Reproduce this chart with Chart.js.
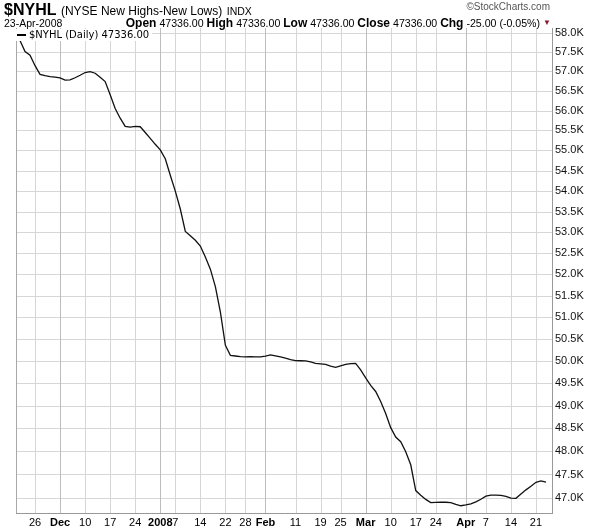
<!DOCTYPE html>
<html>
<head>
<meta charset="utf-8">
<script src="https://cdn.jsdelivr.net/npm/chart.js@4.4.1/dist/chart.umd.min.js"></script>
<style>
  html, body { margin:0; padding:0; background:#fff; }
  #wrap { position:relative; width:600px; height:530px; overflow:hidden; }
  canvas { position:absolute; left:0; top:0; }
  .t { position:absolute; font-family:"Liberation Sans", Arial, sans-serif; color:#000; white-space:nowrap; }
</style>
</head>
<body>
<div id="wrap">
  <canvas id="c" width="600" height="530"></canvas>
  <div class="t" style="left:4px;top:1px;"><span style="font-size:16px;font-weight:bold;">$NYHL</span> <span style="font-size:12px;">(NYSE New Highs-New Lows)</span> <span style="font-size:10.5px;">INDX</span></div>
  <div class="t" style="left:4px;top:17px;font-size:10.5px;">23-Apr-2008</div>
  <div class="t" style="right:60px;top:16px;font-size:10.6px;"><b style="font-size:12px;">Open</b> 47336.00 <b style="font-size:12px;">High</b> 47336.00 <b style="font-size:12px;">Low</b> 47336.00 <b style="font-size:12px;">Close</b> 47336.00 <b style="font-size:12px;">Chg</b> -25.00 (-0.05%)</div>
  <div class="t" style="left:543px;top:18px;font-size:8px;color:#8b1a2b;">&#9660;</div>
  <div class="t" style="right:50px;top:1px;font-size:10px;color:#555;">&copy;StockCharts.com</div>
  <div class="t" style="left:16px;top:29px;background:#fff;padding:0 3px 1px 1px;font-family:'DejaVu Sans',sans-serif;font-size:10px;"><span style="display:inline-block;width:9px;height:2px;background:#000;vertical-align:middle;margin-right:3px;"></span>$NYHL (Daily) 47336.00</div>
</div>
<script>
const tradingDates = [
  '2007-11-20','2007-11-21','2007-11-23','2007-11-26','2007-11-27','2007-11-28','2007-11-29','2007-11-30',
  '2007-12-03','2007-12-04','2007-12-05','2007-12-06','2007-12-07','2007-12-10','2007-12-11','2007-12-12','2007-12-13','2007-12-14',
  '2007-12-17','2007-12-18','2007-12-19','2007-12-20','2007-12-21','2007-12-24','2007-12-26','2007-12-27','2007-12-28','2007-12-31',
  '2008-01-02','2008-01-03','2008-01-04','2008-01-07','2008-01-08','2008-01-09','2008-01-10','2008-01-11','2008-01-14','2008-01-15',
  '2008-01-16','2008-01-17','2008-01-18','2008-01-22','2008-01-23','2008-01-24','2008-01-25','2008-01-28','2008-01-29','2008-01-30','2008-01-31',
  '2008-02-01','2008-02-04','2008-02-05','2008-02-06','2008-02-07','2008-02-08','2008-02-11','2008-02-12','2008-02-13','2008-02-14','2008-02-15',
  '2008-02-19','2008-02-20','2008-02-21','2008-02-22','2008-02-25','2008-02-26','2008-02-27','2008-02-28','2008-02-29',
  '2008-03-03','2008-03-04','2008-03-05','2008-03-06','2008-03-07','2008-03-10','2008-03-11','2008-03-12','2008-03-13','2008-03-14',
  '2008-03-17','2008-03-18','2008-03-19','2008-03-20','2008-03-24','2008-03-25','2008-03-26','2008-03-27','2008-03-28','2008-03-31',
  '2008-04-01','2008-04-02','2008-04-03','2008-04-04','2008-04-07','2008-04-08','2008-04-09','2008-04-10','2008-04-11',
  '2008-04-14','2008-04-15','2008-04-16','2008-04-17','2008-04-18','2008-04-21','2008-04-22','2008-04-23'
];
const nyhlValues = [
  57800,57515,57421,57148,56925,56894,56868,56855,
  56832,56775,56780,56837,56901,56971,56995,56953,56847,56739,
  56402,56052,55806,55601,55581,55601,55591,55447,55301,55151,
  55013,54791,54385,53996,53561,53021,52915,52807,52671,52413,
  52123,51713,51122,50359,50131,50115,50099,50097,50102,50097,50094,
  50115,50142,50119,50094,50065,50035,50010,50008,50003,49981,49947,
  49938,49926,49888,49858,49894,49928,49944,49949,49802,
  49621,49452,49318,49094,48828,48518,48313,48210,47992,47709,
  47156,47057,46968,46899,46903,46907,46907,46899,46861,46833,
  46850,46874,46914,46972,47036,47057,47059,47053,47032,
  46993,46991,47085,47171,47248,47332,47361,47336
];
const xTickIndices = [3,8,13,18,23,28,31,36,41,45,49,55,60,64,69,74,79,83,89,93,98,103];
const xTickLabels = ['26','Dec','10','17','24','2008','7','14','22','28','Feb','11','19','25','Mar','10','17','24','Apr','7','14','21'];
const xBoldLabels = ['Dec','2008','Feb','Mar','Apr'];
const yTickValues = [47000,47500,48000,48500,49000,49500,50000,50500,51000,51500,52000,52500,53000,53500,54000,54500,55000,55500,56000,56500,57000,57500,58000];

const points = nyhlValues.map((v, i) => ({ x: i, y: v }));
const labelAt = (v) => { const k = xTickIndices.indexOf(Math.round(v)); return k >= 0 ? xTickLabels[k] : ''; };
const isMonth = (v) => xBoldLabels.includes(labelAt(v));

const frameAndGrid = {
  id: 'frameAndGrid',
  beforeDatasetsDraw(chart) {
    const a = chart.chartArea, ctx = chart.ctx;
    const xs = chart.scales.x, ys = chart.scales.y;
    ctx.save();
    ctx.lineWidth = 1;
    ys.ticks.forEach(t => {
      const y = Math.round(ys.getPixelForValue(t.value)) + 0.5;
      ctx.strokeStyle = '#d6d6d6';
      ctx.beginPath(); ctx.moveTo(a.left, y); ctx.lineTo(a.right, y); ctx.stroke();
    });
    xs.ticks.forEach(t => {
      const x = Math.round(xs.getPixelForValue(t.value)) + 0.5;
      ctx.strokeStyle = isMonth(t.value) ? '#bdbdbd' : '#d6d6d6';
      ctx.beginPath(); ctx.moveTo(x, a.top); ctx.lineTo(x, a.bottom); ctx.stroke();
    });
    ctx.strokeStyle = '#a8a8a8';
    ctx.beginPath(); ctx.moveTo(a.left + 0.5, a.top); ctx.lineTo(a.left + 0.5, a.bottom); ctx.stroke();
    ctx.restore();
  }
};

new Chart(document.getElementById('c'), {
  type: 'line',
  data: {
    datasets: [{
      label: '$NYHL (Daily)',
      data: points,
      borderColor: '#111',
      borderWidth: 1.3,
      pointRadius: 0,
      tension: 0,
      fill: false
    }]
  },
  options: {
    responsive: false,
    animation: false,
    devicePixelRatio: 1,
    layout: { padding: { left: 16, top: 28, right: 0, bottom: 0 } },
    plugins: { legend: { display: false }, tooltip: { enabled: false } },
    scales: {
      x: {
        type: 'linear',
        min: -0.8,
        max: 106.2,
        afterBuildTicks: (s) => { s.ticks = xTickIndices.map(v => ({ value: v })); },
        afterFit: (s) => { s.height = 17; },
        grid: { display: true, drawOnChartArea: false, drawTicks: false },
        border: { display: true, color: '#999', dash: [1, 2] },
        ticks: {
          autoSkip: false,
          maxRotation: 0,
          padding: 3,
          color: '#000',
          font: (c) => ({ family: '"Liberation Sans", Arial, sans-serif', size: 11, weight: (c.tick && isMonth(c.tick.value)) ? 'bold' : 'normal' }),
          callback: (v) => labelAt(v)
        }
      },
      y: {
        type: 'logarithmic',
        position: 'right',
        min: 46680,
        max: 58130,
        afterBuildTicks: (s) => { s.ticks = yTickValues.map(v => ({ value: v })); },
        afterFit: (s) => { s.width = 48; },
        grid: { display: true, drawOnChartArea: false, drawTicks: false },
        border: { display: true, color: '#999', dash: [1, 2] },
        ticks: {
          autoSkip: false,
          padding: 3,
          color: '#111',
          font: { family: '"Liberation Sans", Arial, sans-serif', size: 11 },
          callback: (v) => (v / 1000).toFixed(1) + 'K'
        }
      }
    }
  },
  plugins: [frameAndGrid]
});
</script>
</body>
</html>
